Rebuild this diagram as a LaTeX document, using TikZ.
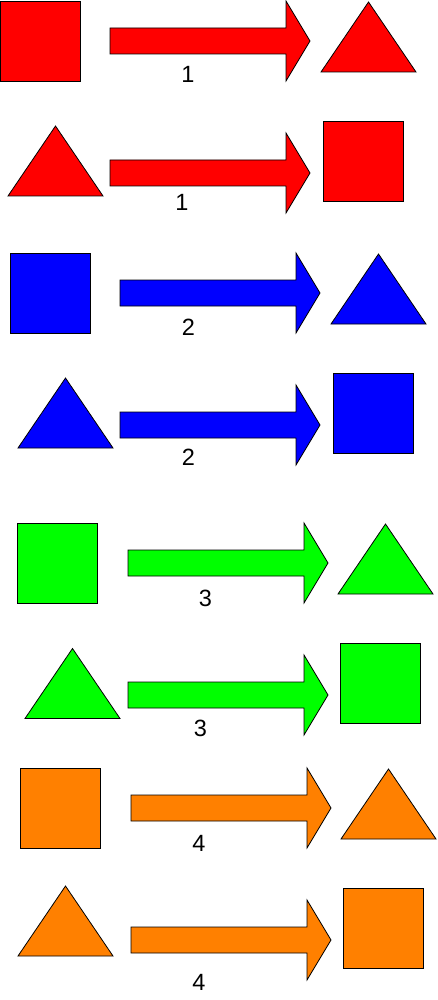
\documentclass[tikz,border=0pt]{standalone}
\usepackage{fontspec}
\setmainfont{Liberation Sans}
\definecolor{shred}{RGB}{255,0,0}
\definecolor{shblue}{RGB}{0,0,255}
\definecolor{shgreen}{RGB}{0,255,0}
\definecolor{shorange}{RGB}{255,128,0}
\tikzset{
  shapeline/.style={draw=black, line width=0.8pt, line join=miter},
  sqbox/.style={shapeline, rectangle, minimum size=80pt, inner sep=0pt, outer sep=0pt},
  numlabel/.style={anchor=base, inner sep=0pt, font=\fontsize{23.5}{28}\selectfont},
  pics/blockarrow/.style={code={
    \draw[shapeline, fill=#1] (0,-13) -- (176,-13) -- (176,-40) -- (200,0)
      -- (176,40) -- (176,13) -- (0,13) -- cycle;}},
  pics/tri/.style={code={
    \draw[shapeline, fill=#1] (-47.5,35) -- (0,-35) -- (47.5,35) -- cycle;}}
}
\begin{document}
\begin{tikzpicture}[x=1pt, y=-1pt]
\useasboundingbox (0,0) rectangle (437,1000);
% row 1
\node[sqbox, fill=shred] (sq1) at (40,41) {};
\pic (ar1) at (110,41) {blockarrow=shred};
\pic (tr1) at (368.5,37) {tri=shred};
\node[numlabel] (lb1) at (188,82.5) {1};
% row 2
\pic (tr2) at (55.5,161) {tri=shred};
\pic (ar2) at (110,173) {blockarrow=shred};
\node[sqbox, fill=shred] (sq2) at (363,161) {};
\node[numlabel] (lb2) at (182,210.5) {1};
% row 3
\node[sqbox, fill=shblue] (sq3) at (50,293) {};
\pic (ar3) at (120,293) {blockarrow=shblue};
\pic (tr3) at (378.5,289) {tri=shblue};
\node[numlabel] (lb3) at (188.5,335.5) {2};
% row 4
\pic (tr4) at (65.5,413) {tri=shblue};
\pic (ar4) at (120,425) {blockarrow=shblue};
\node[sqbox, fill=shblue] (sq4) at (373,413) {};
\node[numlabel] (lb4) at (188.5,465) {2};
% row 5
\node[sqbox, fill=shgreen] (sq5) at (57,563) {};
\pic (ar5) at (128,563) {blockarrow=shgreen};
\pic (tr5) at (385.5,559) {tri=shgreen};
\node[numlabel] (lb5) at (205.5,606.5) {3};
% row 6
\pic (tr6) at (72.5,683.5) {tri=shgreen};
\pic (ar6) at (128,695) {blockarrow=shgreen};
\node[sqbox, fill=shgreen] (sq6) at (380,683) {};
\node[numlabel] (lb6) at (200.5,736.5) {3};
% row 7
\node[sqbox, fill=shorange] (sq7) at (60,808) {};
\pic (ar7) at (131,808) {blockarrow=shorange};
\pic (tr7) at (388.5,804) {tri=shorange};
\node[numlabel] (lb7) at (199,851.5) {4};
% row 8
\pic (tr8) at (65.5,921) {tri=shorange};
\pic (ar8) at (131,940) {blockarrow=shorange};
\node[sqbox, fill=shorange] (sq8) at (383,928) {};
\node[numlabel] (lb8) at (199,990.5) {4};
\end{tikzpicture}
\end{document}
